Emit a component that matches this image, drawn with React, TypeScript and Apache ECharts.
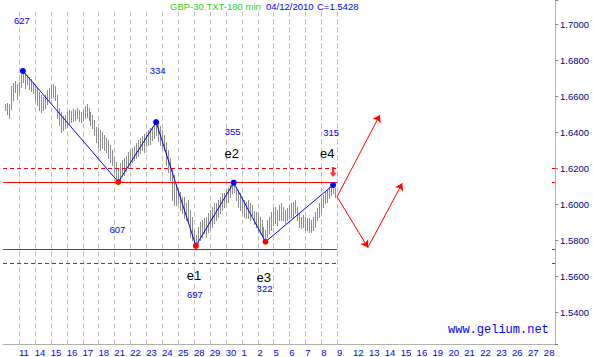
import { useEffect, useRef } from "react";
import * as echarts from "echarts";

// ---- data ----
const titleName = "GBP-30.TXT-180 min";
const titleDate = "04/12/2010";
const titleClose = "C=1.5428";
const siteText = "www.gelium.net";

const dayLabels = [
  "11", "14", "15", "16", "17", "18", "21", "22", "23", "24", "25", "28", "29", "30", "1", "2", "5",
  "6", "7", "8", "9", "12", "13", "14", "15", "16", "19", "20", "21", "22", "23", "26", "27", "28",
];
const gridDayCount = 21; // dashed day lines drawn for days 0..20

// 180-minute bars (8 per day); bar 7 sits on the first day line
const barsPerDay = 8;
const firstDayBar = 7;
const barHigh = [
  1.6559, 1.6565, 1.6559, 1.6659, 1.6676, 1.6687, 1.667, 1.6682, 1.6737, 1.6743,
  1.6732, 1.672, 1.6709, 1.6698, 1.6682, 1.6665, 1.6648, 1.6626, 1.6609, 1.6598,
  1.6609, 1.6637, 1.6648, 1.6665, 1.667, 1.6659, 1.6609, 1.6537, 1.6515, 1.6493,
  1.6498, 1.6515, 1.6526, 1.652, 1.6532, 1.6526, 1.6537, 1.6526, 1.6515, 1.6526,
  1.6548, 1.6559, 1.6537, 1.6515, 1.6498, 1.647, 1.6432, 1.6426, 1.6415, 1.6404,
  1.6387, 1.637, 1.6359, 1.6332, 1.6304, 1.6265, 1.6237, 1.6204, 1.6232, 1.6248,
  1.6259, 1.627, 1.6293, 1.6304, 1.6315, 1.6326, 1.6343, 1.6359, 1.637, 1.6382,
  1.6393, 1.6404, 1.6415, 1.6426, 1.6432, 1.6443, 1.6459, 1.6454, 1.6437, 1.6415,
  1.6387, 1.6348, 1.6304, 1.6259, 1.6204, 1.6165, 1.6109, 1.6081, 1.607, 1.6043,
  1.6043, 1.6009, 1.6026, 1.597, 1.5932, 1.5859, 1.5832, 1.5876, 1.5904, 1.5915,
  1.5926, 1.5932, 1.5954, 1.597, 1.5987, 1.6009, 1.6009, 1.6026, 1.6043, 1.6065,
  1.6065, 1.6081, 1.6093, 1.6109, 1.612, 1.6122, 1.6098, 1.6081, 1.6065, 1.6043,
  1.6026, 1.6015, 1.6026, 1.6009, 1.5998, 1.5965, 1.5959, 1.5954, 1.5932, 1.5915,
  1.5876, 1.5859, 1.5915, 1.5932, 1.5959, 1.5987, 1.5987, 1.597, 1.5998, 1.6009,
  1.5987, 1.597, 1.5982, 1.5998, 1.6009, 1.6015, 1.6026, 1.5987, 1.5954, 1.5932,
  1.5943, 1.5932, 1.5926, 1.5926, 1.5915, 1.5932, 1.5959, 1.5982, 1.6009, 1.6037,
  1.6054, 1.607, 1.6081, 1.6098, 1.6109, 1.6109, 1.6093,
];
const barLow = [
  1.6526, 1.6504, 1.6482, 1.6532, 1.6581, 1.6626, 1.6587, 1.662, 1.6654, 1.6682,
  1.6648, 1.667, 1.6643, 1.6632, 1.662, 1.6581, 1.6554, 1.6526, 1.6515, 1.6526,
  1.6537, 1.6559, 1.6581, 1.6593, 1.6598, 1.6581, 1.6482, 1.6443, 1.6404, 1.6415,
  1.6426, 1.6432, 1.6448, 1.6459, 1.6465, 1.647, 1.6482, 1.6465, 1.6459, 1.647,
  1.6482, 1.6487, 1.647, 1.6443, 1.6426, 1.6387, 1.6348, 1.632, 1.6304, 1.6315,
  1.6304, 1.6293, 1.6259, 1.6237, 1.622, 1.6182, 1.6148, 1.6126, 1.6137, 1.6159,
  1.6165, 1.6187, 1.6204, 1.622, 1.6237, 1.6248, 1.6259, 1.627, 1.6287, 1.6304,
  1.6293, 1.6326, 1.6332, 1.6337, 1.6359, 1.637, 1.6387, 1.6354, 1.6332, 1.6315,
  1.6304, 1.622, 1.6182, 1.6137, 1.6026, 1.5998, 1.5998, 1.6009, 1.597, 1.5954,
  1.5926, 1.5915, 1.5904, 1.582, 1.5804, 1.5776, 1.5771, 1.5787, 1.5804, 1.582,
  1.5843, 1.582, 1.5848, 1.5859, 1.5876, 1.5898, 1.5915, 1.5932, 1.5954, 1.597,
  1.5987, 1.6009, 1.6015, 1.6043, 1.6065, 1.607, 1.6026, 1.5987, 1.597, 1.5954,
  1.5932, 1.5926, 1.5926, 1.5915, 1.5943, 1.5893, 1.5876, 1.5848, 1.5843, 1.5832,
  1.5804, 1.5794, 1.582, 1.5843, 1.5859, 1.5887, 1.5898, 1.5887, 1.5915, 1.5915,
  1.5915, 1.5898, 1.5915, 1.5926, 1.5932, 1.5932, 1.5954, 1.5915, 1.5876, 1.587,
  1.5876, 1.5859, 1.5859, 1.5848, 1.5848, 1.5859, 1.5876, 1.5915, 1.5932, 1.5954,
  1.5987, 1.6009, 1.6015, 1.6037, 1.6054, 1.6065, 1.6043,
];

// wave pivots (bar index, price)
const waveBar = [9, 57, 76, 96, 115, 131, 165];
const wavePrice = [1.6743, 1.6126, 1.6459, 1.5771, 1.6122, 1.5794, 1.6109];
const waveIsTop = [true, false, true, false, true, false, true];

// horizontal levels
const levelPrice = [1.6202, 1.6126, 1.5752, 1.5674];
const levelDashed = [true, false, false, true];
const levelFromDay = -1;
const levelToDay = 20;

// forecast arrows (day, price)
const forecastDay = [20.0, 22.69, 21.94, 24.1];
const forecastPrice = [1.6044, 1.6498, 1.5762, 1.6119];
const forecastSegments = [
  [0, 1],
  [0, 2],
  [2, 3],
];

// wave size counts (blue) and wave names (black)
const countText = ["627", "334", "355", "315", "607", "697", "322"];
const countDay = [0.19, 8.72, 13.44, 19.63, 6.19, 11.06, 15.44];
const countPrice = [1.7022, 1.6748, 1.6406, 1.64, 1.5861, 1.55, 1.5533];
const nameText = ["e1", "e2", "e3", "e4"];
const nameDay = [11.0, 13.38, 15.39, 19.38];
const namePrice = [1.5609, 1.6282, 1.5598, 1.6282];

// axis ranges
const xMin = -1;
const xMax = 33.7;
const yMin = 1.5226;
const yMax = 1.7137;
const gridTopPrice = 1.7072;
const yStep = 0.02;

const barDay = (k: number) => (k - firstDayBar) / barsPerDay;

const FONT = "Liberation Sans";

export default function App() {
  const ref = useRef<HTMLDivElement>(null);

  useEffect(() => {
    if (!ref.current) return;
    const chart = echarts.init(ref.current, undefined, { renderer: "svg" });

    const option: any = {
      animation: false,
      backgroundColor: "#ffffff",
      textStyle: { fontFamily: FONT },
      grid: { left: 0, right: 38, top: 0, bottom: 13, containLabel: false },
      xAxis: {
        type: "value",
        min: xMin,
        max: xMax,
        interval: 1,
        axisLine: { show: true, onZero: false, lineStyle: { color: "#b0b0b0", width: 1 } },
        axisTick: { show: false },
        splitLine: { show: false },
        axisLabel: {
          color: "#0000ff",
          fontSize: 9.5,
          fontFamily: FONT,
          align: "left",
          margin: 3,
          formatter: (v: number) =>
            Number.isInteger(v) && v >= 0 && v < dayLabels.length ? dayLabels[v] : "",
        },
      },
      yAxis: {
        type: "value",
        position: "right",
        min: yMin,
        max: yMax,
        splitNumber: 10,
        minInterval: yStep,
        maxInterval: yStep,
        axisLine: { show: true, onZero: false, lineStyle: { color: "#b0b0b0", width: 1 } },
        axisTick: { show: true, inside: false, length: 3, lineStyle: { color: "#808080" } },
        splitLine: { show: false },
        axisLabel: {
          color: "#000080",
          fontSize: 9.5,
          fontFamily: FONT,
          margin: 5,
          formatter: (v: number) => {
            const r = Math.round(v / yStep);
            return Math.abs(v - r * yStep) < 1e-6 ? v.toFixed(4) : "";
          },
        },
      },
      graphic: [
        { type: "text", left: 170, top: 1, style: { text: titleName, fill: "#1ed21e", fontSize: 9.5, fontFamily: FONT } },
        { type: "text", left: 266, top: 1, style: { text: titleDate, fill: "#0000ff", fontSize: 9.5, fontFamily: FONT } },
        { type: "text", left: 317, top: 1, style: { text: titleClose, fill: "#0000ff", fontSize: 9.5, fontFamily: FONT } },
        { type: "text", left: 448, top: 324, style: { text: siteText, fill: "#0000ff", fontSize: 12, fontFamily: "Liberation Mono" } },
      ],
      series: [
        // day grid lines
        {
          type: "custom",
          silent: true,
          z: 1,
          data: Array.from({ length: gridDayCount }, (_, d) => [d, gridTopPrice]),
          renderItem: (params: any, api: any) => {
            const top = api.coord([api.value(0), api.value(1)]);
            const bot = api.coord([api.value(0), yMin]);
            const x = Math.round(top[0]) + 0.5;
            return {
              type: "line",
              shape: { x1: x, y1: top[1], x2: x, y2: bot[1] },
              style: { stroke: "#bdbdbd", lineWidth: 1, lineDash: [5, 3] },
            };
          },
        },
        // price bars
        {
          type: "custom",
          silent: true,
          z: 2,
          data: barHigh.map((h, k) => [barDay(k), h, barLow[k]]),
          renderItem: (params: any, api: any) => {
            const top = api.coord([api.value(0), api.value(1)]);
            const bot = api.coord([api.value(0), api.value(2)]);
            const x = Math.round(top[0]) + 0.5;
            return {
              type: "line",
              shape: { x1: x, y1: Math.round(top[1]), x2: x, y2: Math.round(bot[1]) + 1 },
              style: { stroke: "#8c8c8c", lineWidth: 1 },
            };
          },
        },
        // horizontal levels + axis marks
        {
          type: "custom",
          silent: true,
          z: 3,
          data: levelPrice.map((p, i) => [levelFromDay, p, levelToDay, levelDashed[i] ? 1 : 0]),
          renderItem: (params: any, api: any) => {
            const a = api.coord([api.value(0), api.value(1)]);
            const b = api.coord([api.value(2), api.value(1)]);
            const c = api.coord([xMax, api.value(1)]);
            const y = Math.round(a[1]) + 0.5;
            const dashed = api.value(3) === 1;
            return {
              type: "group",
              children: [
                {
                  type: "line",
                  shape: { x1: a[0], y1: y, x2: b[0], y2: y },
                  style: { stroke: "#ff0000", lineWidth: 1, lineDash: dashed ? [4, 3] : null },
                },
                {
                  type: "line",
                  shape: { x1: c[0] - 3, y1: y, x2: c[0], y2: y },
                  style: { stroke: "#ff0000", lineWidth: 1 },
                },
              ],
            };
          },
        },
        // forecast arrows
        {
          type: "lines",
          coordinateSystem: "cartesian2d",
          silent: true,
          z: 4,
          symbol: ["none", "arrow"],
          symbolSize: 7,
          lineStyle: { color: "#ff0000", width: 1, opacity: 1 },
          data: forecastSegments.map(([s, e]) => ({
            coords: [
              [forecastDay[s], forecastPrice[s]],
              [forecastDay[e], forecastPrice[e]],
            ],
          })),
        },
        // wave line
        {
          type: "line",
          silent: true,
          z: 5,
          color: "#0000ff",
          lineStyle: { color: "#0000ff", width: 1 },
          symbol: "circle",
          symbolSize: 6,
          showAllSymbol: true,
          data: waveBar.map((k, i) => ({
            value: [barDay(k), wavePrice[i]],
            itemStyle: { color: waveIsTop[i] ? "#0000ff" : "#ff0000", borderWidth: 0 },
          })),
        },
        // red down marker over last pivot
        {
          type: "scatter",
          silent: true,
          z: 6,
          symbol: "path://M2,0L4,0L4,5L6,5L3,9L0,5L2,5Z",
          symbolSize: [7, 10],
          symbolOffset: [0, -13],
          itemStyle: { color: "#ff0000" },
          data: [[barDay(waveBar[waveBar.length - 1]), wavePrice[wavePrice.length - 1]]],
        },
        // wave counts
        {
          type: "custom",
          silent: true,
          z: 7,
          data: countText.map((t, i) => [countDay[i], countPrice[i]]),
          renderItem: (params: any, api: any) => {
            const p = api.coord([api.value(0), api.value(1)]);
            return {
              type: "text",
              x: p[0],
              y: p[1],
              style: {
                text: countText[params.dataIndex],
                fill: "#0000ff",
                fontSize: 9.5,
                fontFamily: FONT,
                align: "center",
                verticalAlign: "middle",
              },
            };
          },
        },
        // wave names
        {
          type: "custom",
          silent: true,
          z: 7,
          data: nameText.map((t, i) => [nameDay[i], namePrice[i]]),
          renderItem: (params: any, api: any) => {
            const p = api.coord([api.value(0), api.value(1)]);
            return {
              type: "text",
              x: p[0],
              y: p[1],
              style: {
                text: nameText[params.dataIndex],
                fill: "#000000",
                fontSize: 13,
                fontFamily: FONT,
                align: "center",
                verticalAlign: "middle",
              },
            };
          },
        },
      ],
    };

    chart.setOption(option);
    return () => chart.dispose();
  }, []);

  return (
    <div
      ref={ref}
      style={{ position: "fixed", left: 0, top: 0, width: 593, height: 357, background: "#fff" }}
    />
  );
}
